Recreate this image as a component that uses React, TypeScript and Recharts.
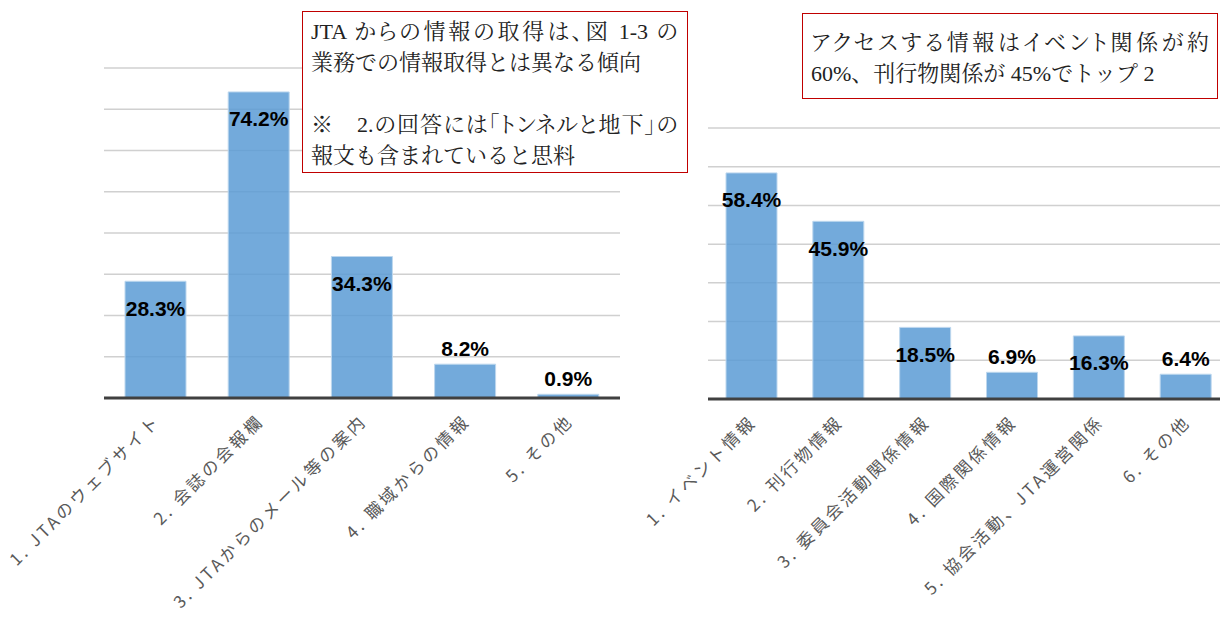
import React from 'react';
import { BarChart, Bar, XAxis, YAxis, CartesianGrid, LabelList } from 'recharts';

// left chart: how JTA info is obtained
const leftCategories = [
  '1. JTAのウェブサイト',
  '2. 会誌の会報欄',
  '3. JTAからのメール等の案内',
  '4. 職域からの情報',
  '5. その他',
];
const leftValues = [28.3, 74.2, 34.3, 8.2, 0.9];
const leftTicks = [0, 10, 20, 30, 40, 50, 60, 70, 80];

// right chart: what info is accessed
const rightCategories = [
  '1. イベント情報',
  '2. 刊行物情報',
  '3. 委員会活動関係情報',
  '4. 国際関係情報',
  '5. 協会活動、JTA運営関係',
  '6. その他',
];
const rightValues = [58.4, 45.9, 18.5, 6.9, 16.3, 6.4];
const rightTicks = [0, 10, 20, 30, 40, 50, 60, 70];

const leftNote = [
  'JTA からの情報の取得は、図 1-3 の',
  '業務での情報取得とは異なる傾向',
  '',
  '※　2.の回答には「トンネルと地下」の',
  '報文も含まれていると思料',
];
const rightNote = [
  'アクセスする情報はイベント関係が約',
  '60%、刊行物関係が 45%でトップ 2',
];

const leftData = leftCategories.map((name, i) => ({ name, value: leftValues[i] }));
const rightData = rightCategories.map((name, i) => ({ name, value: rightValues[i] }));

const SANS = "'Noto Sans CJK JP', 'Noto Sans', sans-serif";
const SERIF = "'Liberation Serif', 'Noto Serif CJK JP', 'Noto Sans CJK JP', serif";

const AxisTick = (props: any) => {
  const { x, y, payload } = props;
  const ax = x + 6;
  const ay = y + 16;
  return (
    <text
      x={ax}
      y={ay}
      transform={`rotate(-45, ${ax}, ${ay})`}
      textAnchor="end"
      fontSize={17}
      letterSpacing={3}
      fill="#595959"
      fontFamily={SANS}
    >
      {payload.value}
    </text>
  );
};

// tall bars get the label inside near the top, short ones above
const ValueLabel = (props: any) => {
  const { x, y, width, value } = props;
  const cy = value >= 15 ? y + 27 : y - 16;
  return (
    <text
      x={x + width / 2}
      y={cy}
      textAnchor="middle"
      dominantBaseline="central"
      fontSize={21}
      fontWeight={700}
      fill="#000"
      fontFamily="'Liberation Sans', Arial, sans-serif"
    >
      {value.toFixed(1)}%
    </text>
  );
};

function PercentBars({ data, ticks, width, margin, xHeight, barSize }: any) {
  return (
    <BarChart width={width} height={617} data={data} margin={margin}>
      <CartesianGrid vertical={false} stroke="#d0d0d0" strokeWidth={1.5} />
      <XAxis
        dataKey="name"
        interval={0}
        height={xHeight}
        tickLine={false}
        axisLine={{ stroke: '#404040', strokeWidth: 3 }}
        tick={<AxisTick />}
      />
      <YAxis hide domain={[0, ticks[ticks.length - 1]]} ticks={ticks} />
      <Bar
        dataKey="value"
        barSize={barSize}
        fill="#5b9bd5"
        fillOpacity={0.85}
        stroke="#bdd7ee"
        strokeWidth={1}
        isAnimationActive={false}
      >
        <LabelList dataKey="value" content={<ValueLabel />} />
      </Bar>
    </BarChart>
  );
}

function NoteBox({ lines, left, top, width, height, padTop, justifyWidth }: any) {
  return (
    <div
      style={{
        position: 'absolute', left, top, width, height, boxSizing: 'border-box',
        border: '1.5px solid #c00000', background: '#fff',
        paddingTop: padTop, paddingLeft: 8,
        fontFamily: SERIF, fontSize: 22, lineHeight: '31px', color: '#222',
      }}
    >
      {lines.map((t: string, i: number) => {
        // wrapped lines of a paragraph are justified, last lines are not
        const full = i < lines.length - 1 && lines[i + 1] !== '' && t !== '';
        return (
          <div
            key={i}
            style={{
              width: justifyWidth, height: 31, whiteSpace: 'nowrap',
              textAlign: full ? 'justify' : 'left',
              textAlignLast: full ? 'justify' : 'auto',
              fontFeatureSettings: full ? "'palt'" : 'normal',
            } as any}
          >
            {t}
          </div>
        );
      })}
    </div>
  );
}

export default function App() {
  return (
    <div style={{ position: 'fixed', left: 0, top: 0, width: 1220, height: 617, overflow: 'hidden', background: '#fff' }}>
      <div style={{ position: 'absolute', left: 0, top: 0 }}>
        <PercentBars
          data={leftData}
          ticks={leftTicks}
          width={640}
          margin={{ top: 68, right: 20, left: 104, bottom: 0 }}
          xHeight={219}
          barSize={61}
        />
      </div>
      <div style={{ position: 'absolute', left: 640, top: 0 }}>
        <PercentBars
          data={rightData}
          ticks={rightTicks}
          width={600}
          margin={{ top: 128, right: 11, left: 68, bottom: 0 }}
          xHeight={218}
          barSize={51}
        />
      </div>
      <NoteBox lines={leftNote} left={302} top={11} width={386} height={162} padTop={4} justifyWidth={367} />
      <NoteBox lines={rightNote} left={802} top={13} width={416} height={86} padTop={13} justifyWidth={398} />
    </div>
  );
}
